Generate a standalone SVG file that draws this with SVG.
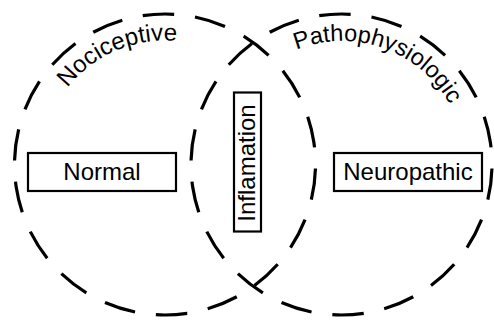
<svg xmlns="http://www.w3.org/2000/svg" xmlns:xlink="http://www.w3.org/1999/xlink" width="494" height="322" viewBox="0 0 494 322">
<style>
.ring{fill:none;stroke:#000;stroke-width:3.2;stroke-dasharray:12 8}
.box{fill:#fff;stroke:#000;stroke-width:2.2}
.lbl{font-family:"Liberation Sans",Arial,sans-serif;font-size:24px;fill:#000}
.arc2{font-size:23.5px}
</style>
<defs>
<path id="arcL" d="M41.87,149.82 A124,124 0 0 1 239.28,65.21"/>
<path id="arcR" d="M262.95,69.62 A123.5,123.5 0 0 1 463.70,143.48"/>
</defs>
<rect width="494" height="322" fill="#fff"/>
<g id="nociceptive">
<circle class="ring" cx="165" cy="164.5" r="150.5" pathLength="360" transform="rotate(-98.5 165 164.5)"/>
<text class="lbl"><textPath xlink:href="#arcL" href="#arcL" startOffset="50%" text-anchor="middle">Nociceptive</textPath></text>
</g>
<g id="pathophysiologic">
<circle class="ring" cx="341.5" cy="164.5" r="150.5" pathLength="360" transform="rotate(-98.5 341.5 164.5)"/>
<text class="lbl arc2"><textPath xlink:href="#arcR" href="#arcR" startOffset="49.5%" text-anchor="middle">Pathophysiologic</textPath></text>
</g>
<g id="connectors"></g>
<g id="normal">
<rect class="box" x="28" y="153" width="148" height="38"/>
<text class="lbl" x="102" y="179.5" text-anchor="middle">Normal</text>
</g>
<g id="inflamation">
<rect class="box" x="234" y="92.5" width="27" height="139"/>
<text class="lbl" transform="translate(254.5 163) rotate(-90)" text-anchor="middle">Inflamation</text>
</g>
<g id="neuropathic">
<rect class="box" x="334" y="153" width="148" height="38"/>
<text class="lbl" x="408" y="179.5" text-anchor="middle">Neuropathic</text>
</g>
</svg>
